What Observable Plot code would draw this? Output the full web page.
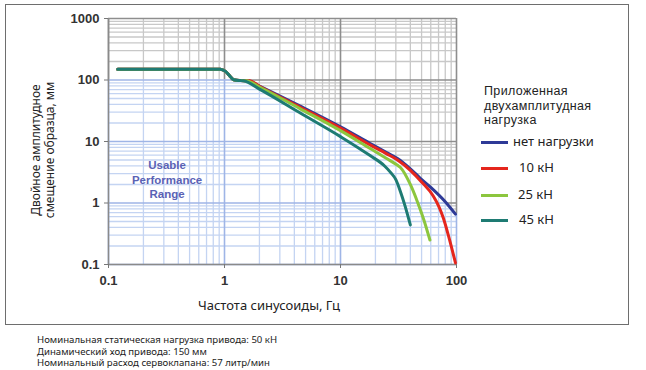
<!DOCTYPE html>
<html><head><meta charset="utf-8">
<script src="https://cdn.jsdelivr.net/npm/d3@7"></script>
<script src="https://cdn.jsdelivr.net/npm/@observablehq/plot@0.6"></script>
<style>
body{margin:0;background:#fff;width:646px;height:370px;position:relative;overflow:hidden;font-family:"Noto Sans",sans-serif;color:#222;}
#frame{position:absolute;left:5px;top:4px;width:624px;height:321px;border:1.5px solid #6e6e6e;box-sizing:border-box;}
#chart{position:absolute;left:0;top:0;}
#ytitle{position:absolute;left:43px;top:150px;transform:translate(-50%,-50%) rotate(-90deg);white-space:nowrap;text-align:center;font-size:12px;line-height:14px;}
#xtitle{position:absolute;left:269px;top:305px;transform:translate(-50%,-50%);white-space:nowrap;font-size:13px;}
.lt{position:absolute;left:484px;font-family:"Liberation Sans",Arial,sans-serif;font-size:12.5px;letter-spacing:0.35px;line-height:14px;white-space:nowrap;}
.lg-line{position:absolute;left:481px;width:27px;height:3px;}
.lg-lab{position:absolute;font-size:13px;line-height:14px;white-space:nowrap;}
#caption{position:absolute;left:37px;top:334px;font-size:9.6px;line-height:11.7px;}
</style></head>
<body>
<div id="chart"></div>
<div id="frame"></div>
<div id="ytitle">Двойное амплитудное<br>смещение образца, мм</div>
<div id="xtitle">Частота синусоиды, Гц</div>
<div class="lt" style="top:84px">Приложенная</div>
<div class="lt" style="top:98.5px">двухамплитудная</div>
<div class="lt" style="top:113px">нагрузка</div>
<div id="legend"></div>
<div id="caption">Номинальная статическая нагрузка привода: 50 кН<br>Динамический ход привода: 150 мм<br>Номинальный расход сервоклапана: 57 литр/мин</div>
<script>
// ---- data ----
const xTicks = [0.1, 1, 10, 100];
const yTicks = [0.1, 1, 10, 100, 1000];
const shoulder = [[0.12,150],[0.92,150],[1.02,138],[1.13,112],[1.2,101],[1.37,98]];
const noLoad = [...shoulder,[1.6,97],[2,79.5],[4.5,37.5],[10,17.3],[18,9.3],[25,6.6],[31,5.3],[40,3.6],[49,2.5],[60,1.8],[80,1.05],[98,0.66]];
const load10 = [...shoulder,[1.65,97],[2,79],[4.5,36],[10,16.5],[18,8.8],[25,6.3],[31,5.0],[40,3.4],[50,2.2],[63,1.3],[70,0.9],[77,0.57],[85,0.3],[92,0.17],[98,0.106]];
const load25 = [...shoulder,[1.55,97],[2,77],[4.5,34],[10,15],[18,7.7],[25,5.3],[31,4.1],[33,3.75],[40,2.0],[46,1.05],[52,0.55],[59,0.25]];
const load45 = [...shoulder,[1.46,97],[2,71],[4.5,29],[10,12],[18,5.9],[24,4.0],[27,3.15],[30,2.4],[33,1.5],[36,0.9],[40,0.44]];
const seriesNames = ["нет нагрузки","10 кН","25 кН","45 кН"];
const seriesColors = ["#2e3a97","#e5261d","#8cc63e","#1e7b73"];
const seriesData = [noLoad, load10, load25, load45];
const annotation = [{x:0.32, y:2.46, label:"Usable\nPerformance\nRange"}];

// ---- grid helpers ----
const xGridVals = [0.1,1,10].flatMap(d => d3.range(1,10).map(k => +(d*k).toPrecision(3))).concat([100]);
const yGridVals = [0.1,1,10,100].flatMap(d => d3.range(1,10).map(k => +(d*k).toPrecision(3))).concat([1000]);
const isMajor = v => Math.abs(Math.log10(v) - Math.round(Math.log10(v))) < 1e-6;
function logInterp(pts, x) {
  const n = pts.length;
  if (x <= pts[0][0]) return pts[0][1];
  if (x >= pts[n-1][0]) return pts[n-1][1];
  for (let i = 1; i < n; i++) if (x <= pts[i][0]) {
    const [x0,y0] = pts[i-1], [x1,y1] = pts[i];
    const t = (Math.log(x) - Math.log(x0)) / (Math.log(x1) - Math.log(x0));
    return Math.exp(Math.log(y0) + t * (Math.log(y1) - Math.log(y0)));
  }
}
const bound = x => Math.min(100, logInterp(noLoad, x));
function boundInv(y) {
  if (y > 100) return 0.1;
  if (bound(100) >= y) return 100;
  let lo = Math.log(0.1), hi = Math.log(100);
  for (let i = 0; i < 60; i++) { const m = (lo+hi)/2; if (bound(Math.exp(m)) >= y) lo = m; else hi = m; }
  return Math.exp(lo);
}
const vBlue = xGridVals.map(x => ({x, y1:0.1, y2:bound(x), major:isMajor(x)}));
const vGray = xGridVals.map(x => ({x, y1:bound(x), y2:1000, major:isMajor(x)}));
const hBlue = yGridVals.filter(y => y <= 100).map(y => ({y, x1:0.1, x2:boundInv(y), major:isMajor(y)}));
const hGray = yGridVals.map(y => ({y, x1: y <= 100 ? boundInv(y) : 0.1, x2:100, major:isMajor(y)}));

const G = {minor:"#c8c8c8", major:"#8e8e8e"};
const B = {minor:"#c4d4f2", major:"#9fb5e6"};
const gridMarks = (major) => [
  Plot.ruleX(vGray.filter(d => d.major === major), {x:"x", y1:"y1", y2:"y2", stroke: major ? G.major : G.minor, strokeWidth: major ? 1.6 : 1.3}),
  Plot.ruleY(hGray.filter(d => d.major === major), {y:"y", x1:"x1", x2:"x2", stroke: major ? G.major : G.minor, strokeWidth: major ? 1.6 : 1.3}),
  Plot.ruleX(vBlue.filter(d => d.major === major), {x:"x", y1:"y1", y2:"y2", stroke: major ? B.major : B.minor, strokeWidth: major ? 1.6 : 1.3}),
  Plot.ruleY(hBlue.filter(d => d.major === major), {y:"y", x1:"x1", x2:"x2", stroke: major ? B.major : B.minor, strokeWidth: major ? 1.6 : 1.3})
];

const chart = Plot.plot({
  width: 646, height: 330,
  marginLeft: 108, marginRight: 190, marginTop: 18, marginBottom: 66,
  style: {fontFamily: "Liberation Sans, Arial, sans-serif", background: "transparent"},
  x: {type: "log", domain: [0.1, 100]},
  y: {type: "log", domain: [0.1, 1000]},
  marks: [
    ...gridMarks(false),
    ...gridMarks(true),
    Plot.ruleX([0.1], {stroke: "#8a8a8a", strokeWidth: 1.5}),
    Plot.ruleY([0.1], {stroke: "#8a8a8a", strokeWidth: 1.5}),
    Plot.axisY({ticks: yTicks, tickFormat: d => String(d), tickSize: 4, tickPadding: 5, label: null, fontSize: 13, fontWeight: "bold", color: "#333", stroke: "#777"}),
    Plot.axisX({ticks: xTicks, tickFormat: d => String(d), tickSize: 4, tickPadding: 7, label: null, fontSize: 13, fontWeight: "bold", color: "#333", stroke: "#777"}),
    Plot.text(annotation, {x:"x", y:"y", text:"label", fill:"#5a62b5", fontSize: 11.5, fontWeight: "bold", lineHeight: 1.25}),
    ...seriesData.map((s, i) => Plot.line(s, {x: d => d[0], y: d => d[1], stroke: seriesColors[i], strokeWidth: 3, curve: "monotone-x"}))
  ]
});
document.getElementById("chart").appendChild(chart);

// legend
const legTops = [142, 168, 195, 220];
const labLefts = [513, 519, 518, 519];
const leg = document.getElementById("legend");
seriesNames.forEach((n, i) => {
  const l = document.createElement("div");
  l.className = "lg-line"; l.style.top = (legTops[i] - 1.5) + "px"; l.style.background = seriesColors[i];
  leg.appendChild(l);
  const t = document.createElement("div");
  t.className = "lg-lab"; t.style.top = (legTops[i] - 8) + "px"; t.style.left = labLefts[i] + "px"; t.textContent = n;
  leg.appendChild(t);
});
</script>
</body></html>
